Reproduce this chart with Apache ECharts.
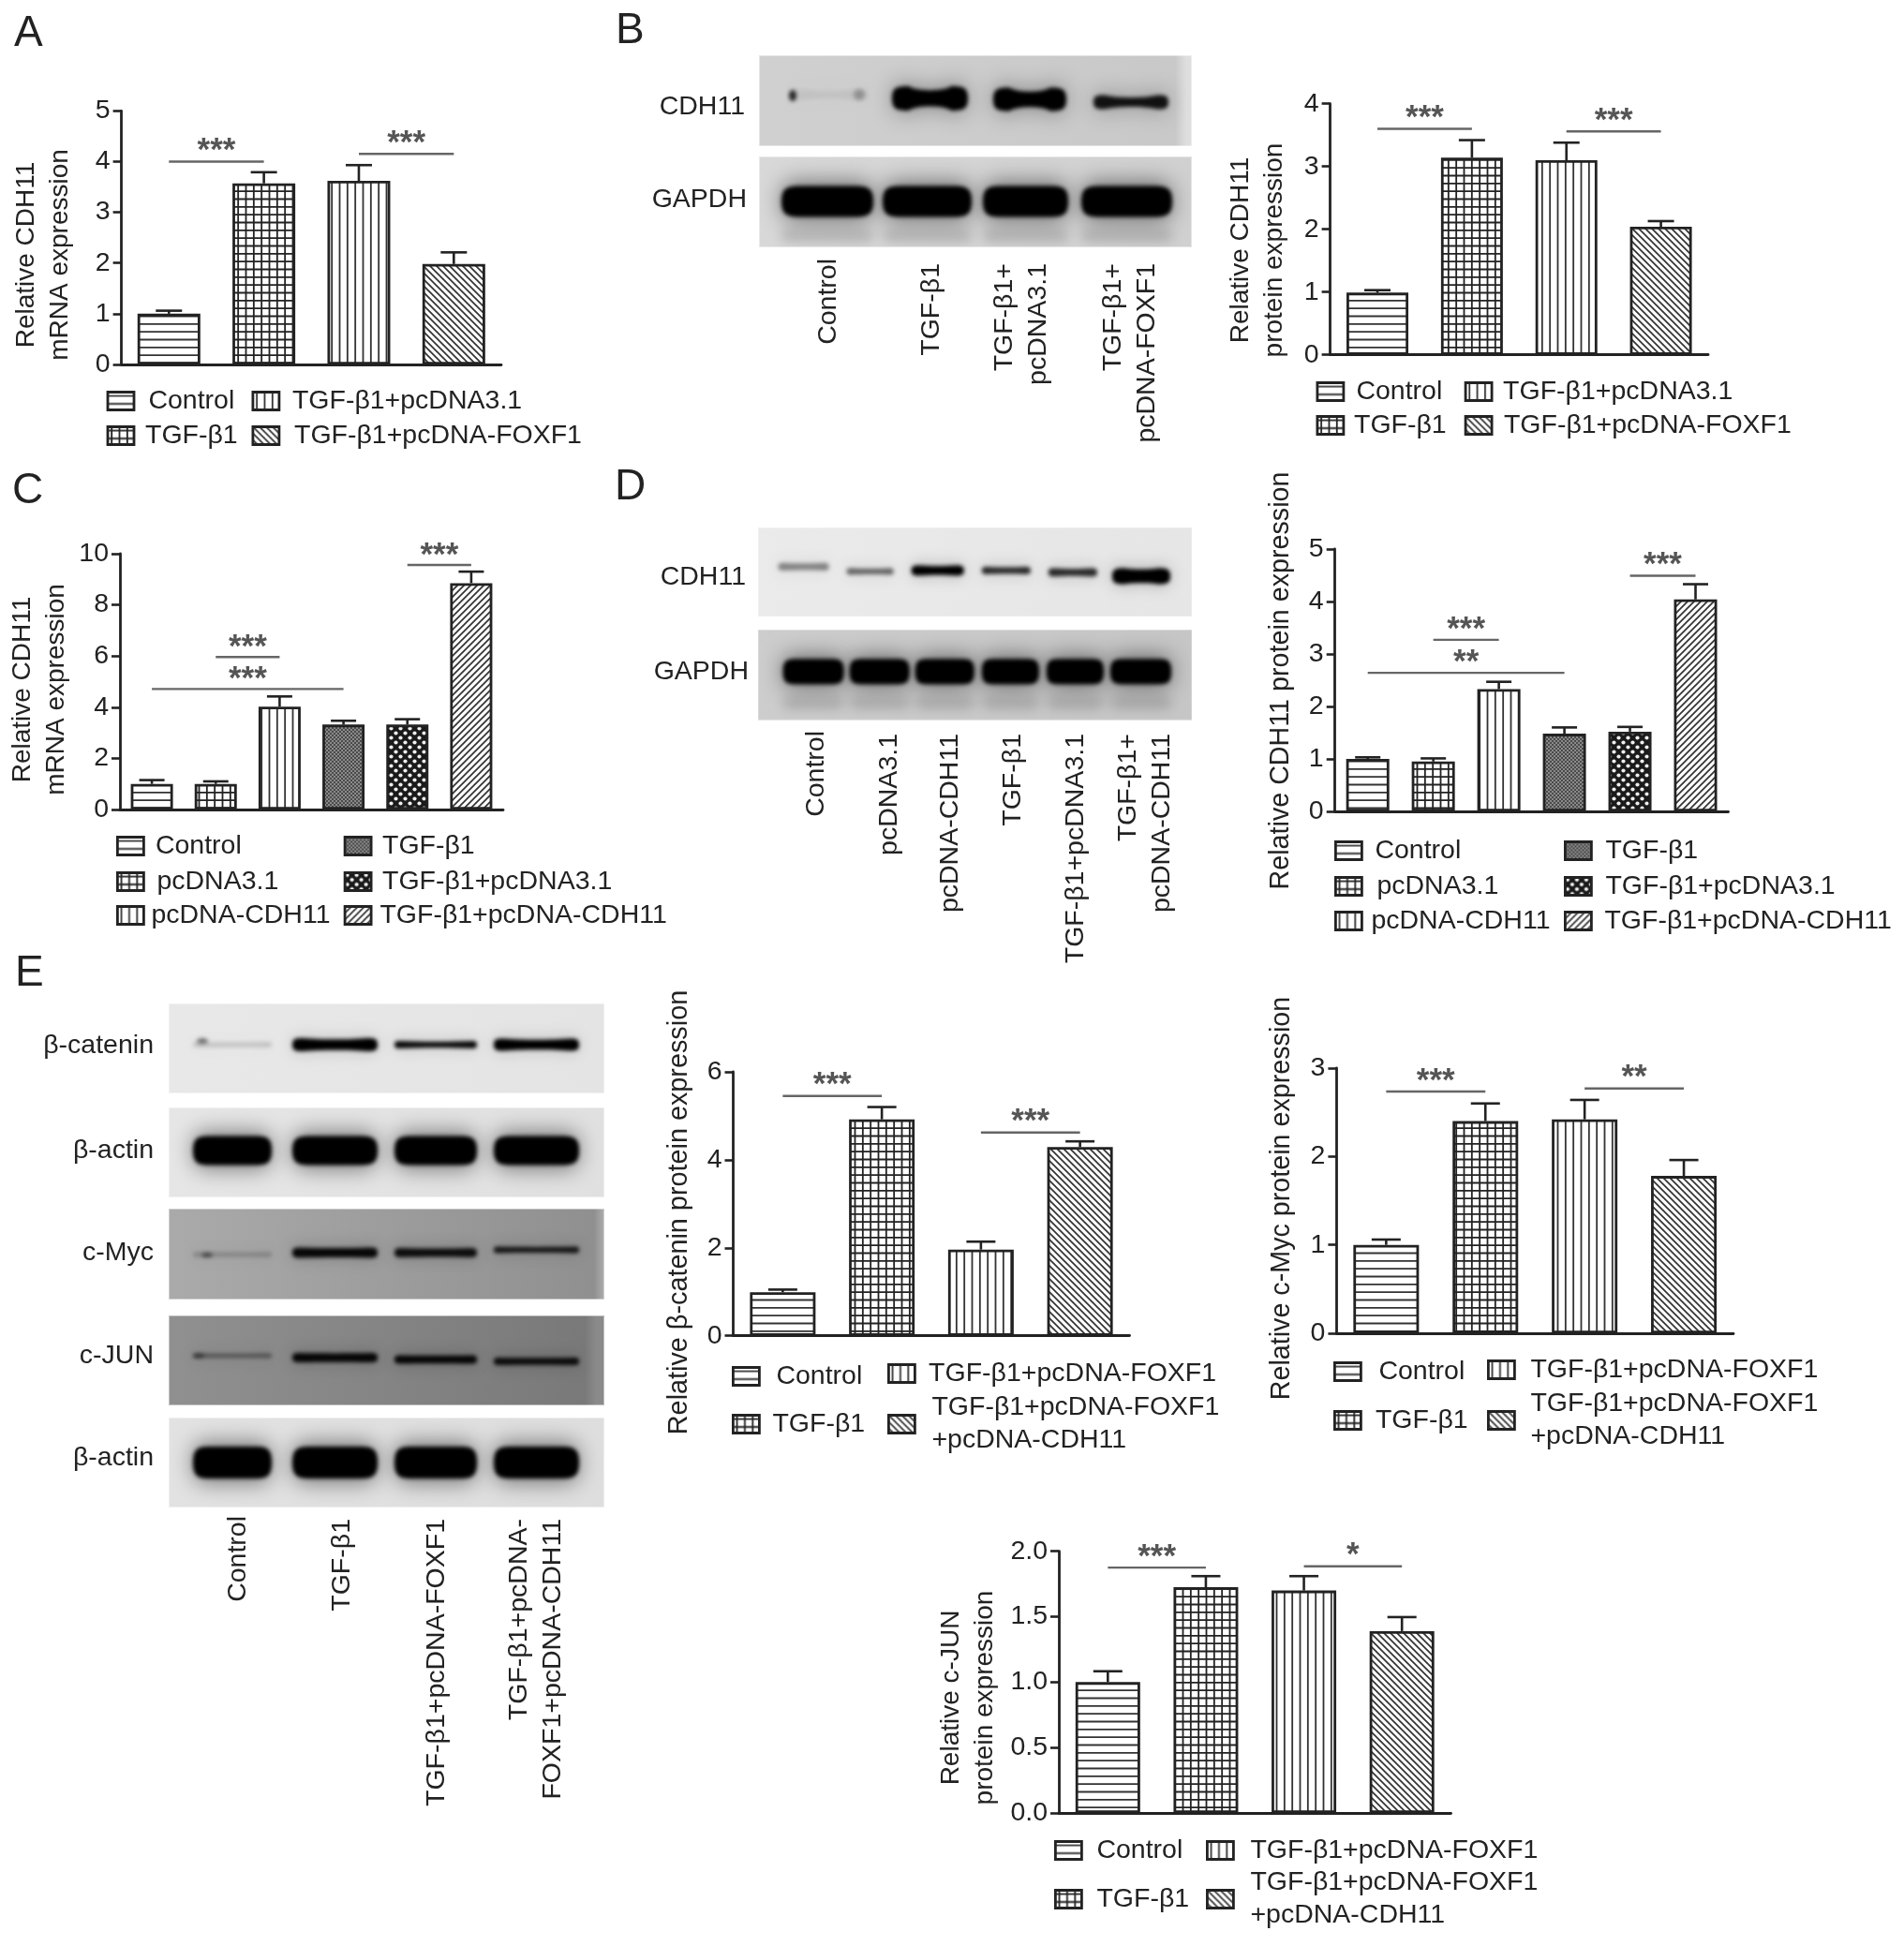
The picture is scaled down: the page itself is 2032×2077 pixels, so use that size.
<!DOCTYPE html>
<html>
<head>
<meta charset="utf-8">
<style>html,body{margin:0;padding:0;background:#fff}#c{width:2032px;height:2077px;filter:blur(0.6px)}</style>
<script src="https://cdn.jsdelivr.net/npm/echarts@6/dist/echarts.min.js"></script>
</head>
<body>
<div id="c"></div>
<script>
// ---------- chart data ----------
const namesA = ['Control','TGF-β1','TGF-β1+pcDNA3.1','TGF-β1+pcDNA-FOXF1'];
const valuesA = [1.0,3.57,3.62,1.98];
const upperA = [1.06,3.79,3.93,2.21];
const sigA = [[0,1,4.0,'***'],[2,3,4.15,'***']];

const namesB = ['Control','TGF-β1','TGF-β1+pcDNA3.1','TGF-β1+pcDNA-FOXF1'];
const valuesB = [0.99,3.14,3.10,2.04];
const upperB = [1.03,3.42,3.38,2.13];
const sigB = [[0,1,3.6,'***'],[2,3,3.56,'***']];

const namesC = ['Control','pcDNA3.1','pcDNA-CDH11','TGF-β1','TGF-β1+pcDNA3.1','TGF-β1+pcDNA-CDH11'];
const valuesC = [1.0,1.0,4.02,3.32,3.32,8.85];
const upperC = [1.15,1.1,4.42,3.47,3.53,9.3];
const sigC = [[1,2,5.96,'***'],[0,3,4.71,'***'],[4,5,9.56,'***']];

const namesD = ['Control','pcDNA3.1','pcDNA-CDH11','TGF-β1','TGF-β1+pcDNA3.1','TGF-β1+pcDNA-CDH11'];
const valuesD = [1.0,0.95,2.33,1.48,1.52,4.04];
const upperD = [1.03,1.01,2.47,1.6,1.61,4.33];
const sigD = [[1,2,3.27,'***'],[0,3,2.64,'**'],[4,5,4.49,'***']];

const namesE = ['Control','TGF-β1','TGF-β1+pcDNA-FOXF1','TGF-β1+pcDNA-FOXF1\n+pcDNA-CDH11'];
const valuesCat = [0.99,4.92,1.96,4.29];
const upperCat = [1.05,5.2,2.14,4.42];
const sigCat = [[0,1,5.45,'***'],[2,3,4.62,'***']];

const valuesMyc = [1.0,2.40,2.42,1.78];
const upperMyc = [1.06,2.60,2.64,1.96];
const sigMyc = [[0,1,2.735,'***'],[2,3,2.77,'**']];

const valuesJun = [1.0,1.725,1.70,1.39];
const upperJun = [1.083,1.81,1.81,1.497];
const sigJun = [[0,1,1.875,'***'],[2,3,1.885,'*']];

// lane labels below the blots
const lanesB = ['Control','TGF-β1','TGF-β1+\npcDNA3.1','TGF-β1+\npcDNA-FOXF1'];
const lanesD = ['Control','pcDNA3.1','pcDNA-CDH11','TGF-β1','TGF-β1+pcDNA3.1','TGF-β1+\npcDNA-CDH11'];
const lanesE = ['Control','TGF-β1','TGF-β1+pcDNA-FOXF1','TGF-β1+pcDNA-\nFOXF1+pcDNA-CDH11'];

// band strength per lane (0..1)
const bandB_CDH11 = [0.05,1,1,0.9];
const bandB_GAPDH = [1,1,1,1];
const bandD_CDH11 = [0.42,0.55,1,0.8,0.8,1];
const bandD_GAPDH = [1,1,1,1,1,1];
const bandE_cat = [0.15,1,0.95,1];
const bandE_actin1 = [1,1,1,1];
const bandE_myc = [0.2,0.95,0.9,0.85];
const bandE_jun = [0.4,0.95,0.95,0.9];
const bandE_actin2 = [1,1,1,1];

// ---------- styles ----------
const FONT = '"Liberation Sans", Arial, sans-serif';
const INK = '#222';

function tile(w, h, draw) {
  const c = document.createElement('canvas');
  c.width = w; c.height = h;
  const x = c.getContext('2d');
  x.fillStyle = '#fff'; x.fillRect(0, 0, w, h);
  draw(x);
  return { image: c, repeat: 'repeat' };
}
function stroke(x, segs, lw, col) {
  x.strokeStyle = col; x.lineWidth = lw; x.beginPath();
  segs.forEach(s => { x.moveTo(s[0], s[1]); x.lineTo(s[2], s[3]); });
  x.stroke();
}
const T = 25, D = 7, stops = [4.17, 12.5, 20.83];
const patterns = {
  h: tile(T, T, x => stroke(x, stops.map(s => [0,s,T,s]), 1.8, '#333')),
  v: tile(T, T, x => stroke(x, stops.map(s => [s,0,s,T]), 1.8, '#333')),
  grid: tile(T, T, x => stroke(x, stops.map(s => [0,s,T,s]).concat(stops.map(s => [s,0,s,T])), 1.8, '#222')),
  back: tile(D, D, x => stroke(x, [[-1,-1,D+1,D+1],[-D-1,-1,1,D+1],[D-1,-1,2*D+1,D+1]], 1.7, '#333')),
  fwd: tile(D, D, x => stroke(x, [[-1,D+1,D+1,-1],[-D-1,D+1,1,-1],[D-1,D+1,2*D+1,-1]], 1.7, '#333')),
  dense: tile(4, 4, x => { x.fillStyle = '#4a4a4a'; x.fillRect(0,0,4,4); x.fillStyle = '#8a8a8a'; x.fillRect(0,0,2,2); x.fillRect(2,2,2,2); }),
  check: tile(10, 10, x => {
    x.fillStyle = '#1a1a1a'; x.fillRect(0,0,10,10); x.fillStyle = '#eee';
    [[2.5,2.5],[7.5,7.5]].forEach(p => { x.beginPath(); x.arc(p[0],p[1],2.1,0,7); x.fill(); });
  })
};

// ---------- panel layout ----------
const panels = [
  { id:'A', names:namesA, values:valuesA, upper:upperA, sig:sigA, pats:['h','grid','v','back'],
    left:129.6, right:535, top:118.3, bottom:389, max:5, interval:1, digits:0, barW:67, capW:28,
    title:'Relative CDH11\nmRNA expression', titleX:46, titleY:272, starLift:11,
    legend:[[113.6,428,160],[113.6,465,156.6],[268.5,428,313.5],[268.5,465,315.6]] },
  { id:'B', names:namesB, values:valuesB, upper:upperB, sig:sigB, pats:['h','grid','v','back'],
    left:1419.6, right:1823, top:110.7, bottom:378.7, max:4, interval:1, digits:0, barW:66, capW:28,
    title:'Relative CDH11\nprotein expression', titleX:1342, titleY:267, starLift:11,
    legend:[[1404.5,418,1449],[1404.5,454,1446.6],[1562.7,418,1605.7],[1562.7,454,1606.5]] },
  { id:'C', names:namesC, values:valuesC, upper:upperC, sig:sigC, pats:['h','grid','v','dense','check','fwd'],
    left:128, right:537, top:591, bottom:864, max:10, interval:2, digits:0, barW:45, capW:27,
    title:'Relative CDH11\nmRNA expression', titleX:42, titleY:736, starLift:10,
    legend:[[124,903,167.5],[124,941,169],[124,977,163],[366.7,903,409.6],[366.7,941,409.6],[366.7,977,407]] },
  { id:'D', names:namesD, values:valuesD, upper:upperD, sig:sigD, pats:['h','grid','v','dense','check','fwd'],
    left:1424.7, right:1844.5, top:586, bottom:866, max:5, interval:1, digits:0, barW:46, capW:27,
    title:'Relative CDH11 protein expression', titleX:1367, titleY:726.5, titleSize:28.7, starLift:11,
    legend:[[1424,908,1469],[1424,946,1471],[1424,983,1465],[1669,908,1715],[1669,946,1715],[1669,983,1714]] },
  { id:'Ec', names:namesE, values:valuesCat, upper:upperCat, sig:sigCat, pats:['h','grid','v','back'],
    left:782.5, right:1205.5, top:1144, bottom:1425.7, max:6, interval:2, digits:0, barW:70, capW:31,
    title:'Relative β-catenin protein expression', titleX:725, titleY:1294, titleSize:28.8, starLift:11,
    legend:[[781,1469,830],[781,1520,826],[947,1466,992.7],[947,1520,996,8]] },
  { id:'Em', names:namesE, values:valuesMyc, upper:upperMyc, sig:sigMyc, pats:['h','grid','v','back'],
    left:1426.4, right:1850, top:1140, bottom:1423, max:3, interval:1, digits:0, barW:70, capW:31,
    title:'Relative c-Myc protein expression', titleX:1368.5, titleY:1279, titleSize:28.7, starLift:11,
    legend:[[1423,1464,1473],[1423,1516,1469.5],[1587,1462,1635],[1587,1516,1635,3]] },
  { id:'Ej', names:namesE, values:valuesJun, upper:upperJun, sig:sigJun, pats:['h','grid','v','back'],
    left:1130, right:1548.5, top:1655.7, bottom:1935, max:2, interval:0.5, digits:1, barW:69, capW:31,
    title:'Relative c-JUN\nprotein expression', titleX:1033, titleY:1812, starLift:11,
    legend:[[1125,1975,1172],[1125,2027,1172],[1287,1975,1336],[1287,2027,1336,6]] }
];

const LH = 36, ICON_W = 28, ICON_H = 19, LEG_LH = 35;
const grids = [], xAxes = [], yAxes = [], series = [], legends = [];

panels.forEach((p, pi) => {
  grids.push({ left: p.left, top: p.top, width: p.right - p.left, height: p.bottom - p.top, containLabel: false });
  xAxes.push({
    type: 'category', gridIndex: pi, data: p.names.map(n => n.replace('\n', ' ')),
    axisLabel: { show: false },
    axisLine: { lineStyle: { color: INK, width: 2.8 } },
    axisTick: { alignWithLabel: true, length: 9, lineStyle: { color: INK, width: 2.6 } }
  });
  const lines = p.title.split('\n').length;
  const grow = (p.top + p.bottom) / 2;
  const shift = p.titleY - grow;
  yAxes.push({
    type: 'value', gridIndex: pi, min: 0, max: p.max, interval: p.interval,
    splitLine: { show: false },
    axisLine: { show: true, lineStyle: { color: INK, width: 2.8 } },
    axisTick: { show: true, length: 9, lineStyle: { color: INK, width: 2.6 } },
    axisLabel: { fontFamily: FONT, fontSize: 28.5, color: INK, margin: 12, padding: [4, 0, 0, 0],
      formatter: v => v.toFixed(p.digits) },
    name: p.title, nameLocation: 'middle', nameRotate: 90, nameMoveOverlap: false,
    nameGap: p.left - p.titleX - lines * LH / 2,
    nameTextStyle: { fontFamily: FONT, fontSize: p.titleSize || 28, color: INK, lineHeight: LH,
      padding: shift >= 0 ? [0, 2 * shift, 0, 0] : [0, 0, 0, -2 * shift] }
  });

  p.names.forEach((n, k) => {
    const key = p.id + '|' + n;
    const style = { color: patterns[p.pats[k]], borderColor: INK, borderWidth: 2.8 };
    series.push({
      type: 'bar', name: key, xAxisIndex: pi, yAxisIndex: pi, barWidth: p.barW, barGap: '-100%',
      data: p.values.map((v, i) => i === k ? v : '-'), itemStyle: style, z: 2, silent: true
    });
    const L = p.legend[k];
    const rows = n.split('\n').length;
    const dy = L[3] || 0;
    const boxH = Math.max(ICON_H, rows * LEG_LH + 2 * dy);
    legends.push({
      show: true, orient: 'horizontal', padding: 0, selectedMode: false,
      left: L[0], top: L[1] - boxH / 2, itemWidth: ICON_W, itemHeight: ICON_H, icon: 'rect',
      data: [{ name: key, icon: 'rect', itemStyle: style }],
      formatter: s => s.split('|')[1],
      textStyle: { fontFamily: FONT, fontSize: 28.5, color: INK, lineHeight: LEG_LH,
        padding: [2 * dy, 0, 0, Math.max(0, L[2] - L[0] - ICON_W - 5 - 3)] }
    });
  });

  // error bars, drawn through the axes
  series.push({
    type: 'custom', name: p.id + ' error', xAxisIndex: pi, yAxisIndex: pi, z: 3, silent: true,
    data: p.values.map((v, i) => [i, v, p.upper[i]]), encode: { x: 0, y: [1, 2] }, clip: false,
    renderItem: (params, api) => {
      const a = api.coord([api.value(0), api.value(1)]);
      const b = api.coord([api.value(0), api.value(2)]);
      const st = { stroke: INK, lineWidth: 2.6, fill: null };
      return { type: 'group', children: [
        { type: 'line', shape: { x1: a[0], y1: a[1], x2: b[0], y2: b[1] }, style: st },
        { type: 'line', shape: { x1: b[0] - p.capW / 2, y1: b[1], x2: b[0] + p.capW / 2, y2: b[1] }, style: st }
      ] };
    }
  });
  // significance brackets
  series.push({
    type: 'custom', name: p.id + ' sig', xAxisIndex: pi, yAxisIndex: pi, z: 4, silent: true,
    data: p.sig.map(s => [s[0], s[1], s[2]]), encode: { x: [0, 1], y: 2 }, clip: false,
    renderItem: (params, api) => {
      const a = api.coord([api.value(0), api.value(2)]);
      const b = api.coord([api.value(1), api.value(2)]);
      return { type: 'group', children: [
        { type: 'line', shape: { x1: a[0], y1: a[1], x2: b[0], y2: b[1] }, style: { stroke: '#666', lineWidth: 2.4 } },
        { type: 'text', style: { text: p.sig[params.dataIndex][3], x: (a[0] + b[0]) / 2, y: a[1] - p.starLift,
            align: 'center', verticalAlign: 'middle', font: 'bold 35px ' + FONT, fill: '#555' } }
      ] };
    }
  });
});

// ---------- western blot strips ----------
function bandPath(c, b) {
  const w = b.x1 - b.x0, mid = (b.x0 + b.x1) / 2, hh = b.h / 2, wst = (b.w === undefined ? 1 : b.w), y = b.y;
  const e = Math.min(w * 0.22, b.h * 0.75);
  c.beginPath();
  c.moveTo(b.x0, y);
  c.bezierCurveTo(b.x0, y - hh * 0.9, b.x0 + e * 0.3, y - hh, b.x0 + e, y - hh);
  c.bezierCurveTo(mid - w * 0.18, y - hh * wst, mid + w * 0.18, y - hh * wst, b.x1 - e, y - hh);
  c.bezierCurveTo(b.x1 - e * 0.3, y - hh, b.x1, y - hh * 0.9, b.x1, y);
  c.bezierCurveTo(b.x1, y + hh * 0.9, b.x1 - e * 0.3, y + hh, b.x1 - e, y + hh);
  c.bezierCurveTo(mid + w * 0.18, y + hh * wst, mid - w * 0.18, y + hh * wst, b.x0 + e, y + hh);
  c.bezierCurveTo(b.x0 + e * 0.3, y + hh, b.x0, y + hh * 0.9, b.x0, y);
  c.closePath();
}
function blot(W, H, o) {
  const cv = document.createElement('canvas');
  cv.width = W; cv.height = H;
  const c = cv.getContext('2d');
  const g = c.createLinearGradient(0, 0, W, 0);
  g.addColorStop(0, o.bg[0]); g.addColorStop(1, o.bg[1]);
  c.fillStyle = g; c.fillRect(0, 0, W, H);
  if (o.strip) {
    const s = c.createLinearGradient(W - o.strip[0] - 6, 0, W - o.strip[0] + 6, 0);
    s.addColorStop(0, o.strip[1] + '00'); s.addColorStop(1, o.strip[1] + 'ff');
    c.fillStyle = s; c.fillRect(W - o.strip[0] - 6, 0, o.strip[0] + 6, H);
  }
  o.bands.forEach(b => {
    c.save();
    c.filter = 'blur(' + (o.haloBlur || 11) + 'px)';
    c.globalAlpha = (b.a === undefined ? 1 : b.a) * (o.halo === undefined ? 0.35 : o.halo);
    c.fillStyle = '#000';
    bandPath(c, { ...b, h: b.h * 1.3 });
    c.fill();
    c.restore();
    if (o.smear) {
      c.save();
      c.filter = 'blur(6px)';
      c.globalAlpha = o.smear;
      c.fillStyle = '#000';
      bandPath(c, { ...b, y: b.y + b.h / 2 + 20, h: 14 });
      c.fill();
      c.restore();
    }
  });
  o.bands.forEach(b => {
    c.save();
    c.filter = 'blur(' + (b.blur || 2) + 'px)';
    c.globalAlpha = b.a === undefined ? 1 : b.a;
    c.fillStyle = '#000';
    bandPath(c, b);
    c.fill();
    c.restore();
  });
  (o.blobs || []).forEach(s => {
    c.save();
    c.filter = 'blur(2px)';
    c.globalAlpha = s[4];
    c.fillStyle = '#000';
    c.beginPath(); c.ellipse(s[0], s[1], s[2], s[3], 0, 0, 7); c.fill();
    c.restore();
  });
  c.strokeStyle = 'rgba(255,255,255,0.45)'; c.lineWidth = 2; c.strokeRect(0, 0, W, H);
  return cv;
}
function lanes(edges, strengths, y, h, w, hs, ys) {
  return edges.map((e, i) => ({ x0: e[0], x1: e[1], y: ys ? ys[i] : y, h: hs ? hs[i] : h, w: w, a: strengths[i] }));
}
const edgesB1 = [[33,116],[142,223],[250,328],[357,437]];
const edgesB2 = [[24,122],[132,227],[239,330],[344,441]];
const edgesD1 = [[22,76],[95,145],[164,220],[239,291],[310,362],[378,440]];
const edgesD2 = [[27,92],[98,162],[168,231],[239,300],[308,369],[376,441]];
const edgesE = [[26,110],[132,223],[241,329],[347,438]];
const stripList = [
  { x:810, y:59,  w:462, h:97, bg:['#d0d0d0','#c8c8c8'], halo:0.3, strip:[12,'#dedede'],
    bands: lanes(edgesB1, bandB_CDH11, 46, 24, 0.55, [12,26,25,15], [42,46,47,50]),
    blobs: [[36,43,4,6,0.8],[107,42,6,6,0.25]] },
  { x:810, y:167, w:462, h:97, bg:['#d8d8d8','#d0d0d0'], halo:0.45, smear:0.14,
    bands: lanes(edgesB2, bandB_GAPDH, 48, 33, 1) },
  { x:808.5, y:562.6, w:463.5, h:95.5, bg:['#ebebeb','#e6e6e6'], halo:0.2, haloBlur:8,
    bands: lanes(edgesD1, bandD_CDH11, 46, 10, 0.8, [8,7,11,8,9,17], [42,47,46,46,48,52]) },
  { x:808.5, y:671.8, w:463.5, h:97, bg:['#cdcdcd','#c6c6c6'], halo:0.45, smear:0.14,
    bands: lanes(edgesD2, bandD_GAPDH, 45, 27, 1) },
  { x:180, y:1071, w:465, h:96, bg:['#e8e8e8','#e4e4e4'], halo:0.15, haloBlur:8,
    bands: lanes(edgesE, bandE_cat, 44, 11, 0.75, [6,14,8,13]),
    blobs: [[36,40,6,3,0.5]] },
  { x:180, y:1182, w:465, h:96, bg:['#e6e6e6','#e0e0e0'], halo:0.45,
    bands: lanes(edgesE, bandE_actin1, 46, 31, 1) },
  { x:180, y:1290, w:465, h:97, bg:['#aaaaaa','#8f8f8f'], halo:0.2, haloBlur:8, strip:[5,'#b0b0b0'],
    bands: lanes(edgesE, bandE_myc, 49, 9, 0.85, [5,11,10,7], [49,47,47,44]),
    blobs: [[41,49.5,6,2.5,0.5]] },
  { x:180, y:1404, w:465, h:96, bg:['#909090','#787878'], halo:0.2, haloBlur:8, strip:[15,'#8a8a8a'],
    bands: lanes(edgesE, bandE_jun, 46, 9, 0.9, [5,10,9,8], [43,45,47,49]),
    blobs: [[32,43,6,2.5,0.4]] },
  { x:180, y:1513, w:465, h:96, bg:['#e2e2e2','#dedede'], halo:0.45,
    bands: lanes(edgesE, bandE_actin2, 48, 34, 1) }
];

const graphics = stripList.map(s => ({
  type: 'image', x: s.x, y: s.y, z: 0, silent: true,
  style: { image: blot(s.w, s.h, s), width: s.w, height: s.h }
}));

function txt(t, x, y, size, align) {
  return { type: 'text', x, y, silent: true,
    style: { text: t, font: size + 'px ' + FONT, fill: INK, align: align || 'left', verticalAlign: 'middle' } };
}
function vtxt(t, x, yTop) {
  return { type: 'text', x, y: yTop, rotation: Math.PI / 2, silent: true,
    style: { text: t, font: '28.5px ' + FONT, fill: INK, align: 'right', verticalAlign: 'middle', lineHeight: 36 } };
}
[['A',15,36],['B',657,33],['C',13,524],['D',656,520],['E',16,1039]].forEach(a => graphics.push(txt(a[0], a[1], a[2], 46)));
[['CDH11',795,114],['GAPDH',797,213],['CDH11',796,616],['GAPDH',799,717],
 ['β-catenin',164,1116],['β-actin',164,1228],['c-Myc',164,1337],['c-JUN',164,1447],['β-actin',164,1556]]
  .forEach(a => graphics.push(txt(a[0], a[1], a[2], 28.5, 'right')));
const laneXB = [884,994,1090,1206], laneXD = [871,949,1014,1081,1148,1222], laneXE = [254,365,466,572];
lanesB.forEach((t, i) => graphics.push(vtxt(t, laneXB[i], i === 0 ? 276 : 281)));
lanesD.forEach((t, i) => graphics.push(vtxt(t, laneXD[i], i === 0 ? 780 : 783)));
lanesE.forEach((t, i) => graphics.push(vtxt(t, laneXE[i], i === 0 ? 1618 : 1621)));

const chart = echarts.init(document.getElementById('c'), null, { renderer: 'canvas', width: 2032, height: 2077 });
chart.setOption({
  animation: false,
  backgroundColor: '#fff',
  textStyle: { fontFamily: FONT },
  grid: grids, xAxis: xAxes, yAxis: yAxes, series: series, legend: legends,
  graphic: { elements: graphics }
});
</script>
</body>
</html>
